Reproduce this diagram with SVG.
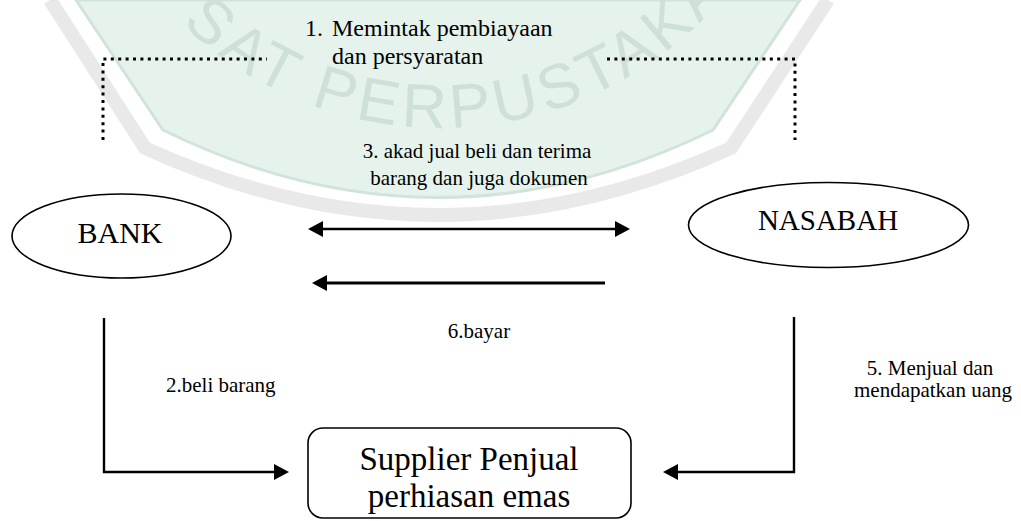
<svg xmlns="http://www.w3.org/2000/svg" width="1021" height="521" viewBox="0 0 1021 521">
<style>
.t{font-family:"Liberation Serif","Times New Roman",serif;fill:#000}
.node{fill:#fff;stroke:#000;stroke-width:1.6}
.conn{fill:none;stroke:#000}
.dot{fill:none;stroke:#000;stroke-width:3;stroke-dasharray:3 4.4}
.wm{font-family:"Liberation Sans",Arial,sans-serif;fill:#cfe1d6}
</style>
<defs>
<marker id="ah" viewBox="0 0 15 16" refX="12" refY="8" markerWidth="15" markerHeight="16" markerUnits="userSpaceOnUse" orient="auto-start-reverse">
<path d="M0,0 L15,8 L0,16 Z" fill="#000"/>
</marker>
<path id="wmArc" d="M 155 -5 A 372 372 0 0 0 762 -58"/>
</defs>
<rect width="1021" height="521" fill="#fff"/>
<g id="watermark">
<path d="M 50 0 L 145 148 Q 438 282 731 148 L 828 0" fill="none" stroke="#e9e9e9" stroke-width="14"/>
<path d="M 76 0 L 163 130 Q 438 265 713 130 L 800 0 Z" fill="#e5f3ec" stroke="#d2e4d9" stroke-width="3"/>
<text class="wm" font-size="62"><textPath href="#wmArc" startOffset="39" textLength="613" lengthAdjust="spacing">SAT PERPUSTAKA</textPath></text>
</g>
<g id="connectors">
<path class="dot" d="M103 140 V59 H267"/>
<path class="dot" d="M607 59 H795 V140"/>
<line class="conn" x1="311" y1="229" x2="627" y2="229" stroke-width="2.6" marker-start="url(#ah)" marker-end="url(#ah)"/>
<line class="conn" x1="605" y1="283" x2="315" y2="283" stroke-width="3.2" marker-end="url(#ah)"/>
<path class="conn" d="M104 318 V472 H286" stroke-width="2.4" marker-end="url(#ah)"/>
<path class="conn" d="M794 317 V472 H666" stroke-width="2.4" marker-end="url(#ah)"/>
<g id="labels">
<text class="t" font-size="24"><tspan x="305" y="36">1.</tspan><tspan x="332" y="36">Memintak pembiayaan</tspan><tspan x="332" y="64">dan persyaratan</tspan></text>
<text class="t" font-size="21" text-anchor="middle"><tspan x="477" y="158">3. akad jual beli dan terima</tspan><tspan x="479" y="185">barang dan juga dokumen</tspan></text>
<text class="t" font-size="21" x="479" y="338" text-anchor="middle">6.bayar</text>
<text class="t" font-size="21" x="166" y="392">2.beli barang</text>
<text class="t" font-size="21" text-anchor="middle"><tspan x="930" y="375">5. Menjual dan</tspan><tspan x="933" y="397">mendapatkan uang</tspan></text>
</g>
</g>
<g id="bank">
<ellipse class="node" cx="121.5" cy="236" rx="109.5" ry="42"/>
<text class="t" font-size="30" x="120" y="243" text-anchor="middle">BANK</text>
</g>
<g id="nasabah">
<ellipse class="node" cx="828.5" cy="225" rx="140" ry="42.5"/>
<text class="t" font-size="29" x="828" y="230" text-anchor="middle">NASABAH</text>
</g>
<g id="supplier">
<rect class="node" x="308" y="428" width="323" height="90" rx="15"/>
<text class="t" font-size="33" text-anchor="middle"><tspan x="469" y="470">Supplier Penjual</tspan><tspan x="469" y="507">perhiasan emas</tspan></text>
</g>
</svg>
